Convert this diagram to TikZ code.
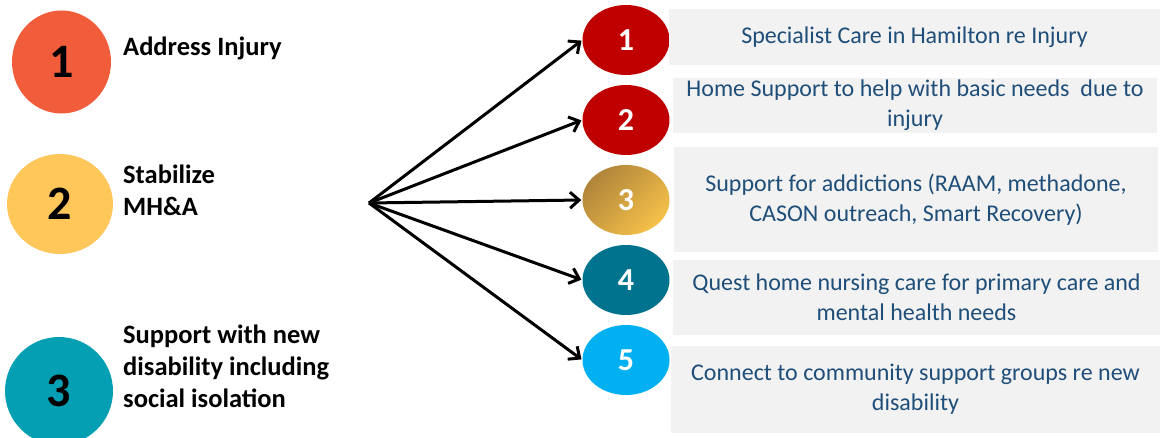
\documentclass[tikz,border=0pt]{standalone}
\usepackage{fontspec}
\setmainfont{Carlito}
\usetikzlibrary{arrows.meta,shapes.geometric,positioning}

\definecolor{stepred}{HTML}{F15C3B}
\definecolor{stepyellow}{HTML}{FFC65A}
\definecolor{stepteal}{HTML}{049FB3}
\definecolor{svcred}{HTML}{C00000}
\definecolor{golddark}{HTML}{B0853A}
\definecolor{goldlight}{HTML}{F5C149}
\definecolor{svcteal}{HTML}{00748F}
\definecolor{svcblue}{HTML}{00B0F0}
\definecolor{boxgray}{HTML}{F2F2F2}
\definecolor{boxblue}{HTML}{1F4E79}

\begin{document}
\begin{tikzpicture}[x=1pt,y=-1pt,node distance=80pt,shorten >=1pt,
  >={Straight Barb[length=9pt,width=16pt]},
  goal/.style={ellipse,inner sep=0pt,font=\fontsize{48}{48}\selectfont\bfseries},
  goaltext/.style={anchor=base west,align=left,inner sep=0pt,font=\fontsize{26.5}{32}\selectfont\bfseries},
  service/.style={ellipse,inner sep=0pt,minimum width=87pt,minimum height=70pt,text=white,font=\fontsize{32}{32}\selectfont\bfseries},
  servicebox/.style={fill=boxgray,text=boxblue,align=center,inner sep=0pt,font=\fontsize{24}{30}\selectfont}]

\useasboundingbox (0,0) rectangle (1161,438);

% goals on the left
\node[goal,fill=stepred,minimum width=99pt,minimum height=103pt]     (G1) at (61.5,62) {1};
\node[goal,fill=stepyellow,minimum width=106pt,minimum height=100pt] (G2) at (60,204)  {2};
\node[goal,fill=stepteal,minimum width=108pt,minimum height=108pt]   (G3) at (59,391)  {3};

\node[goaltext] (T1) at (123,56)  {Address Injury};
\node[goaltext] (T2) at (123,216) {Stabilize\\MH\&A};
\node[goaltext] (T3) at (123,407) {Support with new\\disability including\\social isolation};

% services on the right
\node[service,fill=svcred]  (S1) at (626,40)   {1};
\node[service,fill=svcred]  (S2) [below of=S1] {2};
\node[service,top color=golddark,bottom color=goldlight,shading angle=45] (S3) [below of=S2] {3};
\node[service,fill=svcteal] (S4) [below of=S3] {4};
\node[service,fill=svcblue] (S5) [below of=S4] {5};

\node[servicebox,minimum width=491pt,minimum height=56pt]  (B1) at (914.5,37)   {Specialist Care in Hamilton re Injury};
\node[servicebox,minimum width=484pt,minimum height=55pt]  (B2) at (915,105.5)  {Home Support to help with basic needs\ \ due to\\injury};
\node[servicebox,minimum width=484pt,minimum height=105pt] (B3) at (916,199.5)  {Support for addictions (RAAM, methadone,\\CASON outreach, Smart Recovery)};
\node[servicebox,minimum width=487pt,minimum height=75pt]  (B4) at (916.5,297.5) {Quest home nursing care for primary care and\\mental health needs};
\node[servicebox,minimum width=489pt,minimum height=87pt]  (B5) at (915.5,389.5) {Connect to community support groups re new\\disability};

\coordinate (HUB) at (369,203);

\path[->,line width=3pt] (HUB) edge (S1.west)
                               edge (S2.west)
                               edge (S3.west)
                               edge (S4.west)
                               edge (S5.west);
\end{tikzpicture}
\end{document}
